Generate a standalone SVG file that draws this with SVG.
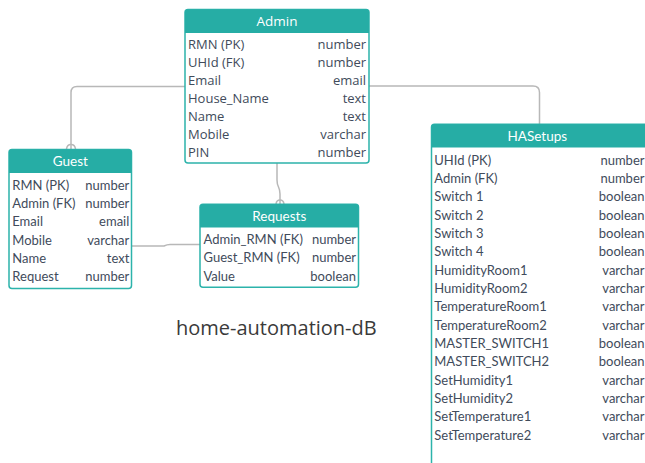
<svg xmlns="http://www.w3.org/2000/svg" width="645" height="463" viewBox="0 0 645 463">
  <defs>
    <style>
      .box { fill: #ffffff; stroke: #2cb3ab; stroke-width: 1.5; }
      .hdr { fill: #26ada5; }
      .ht { fill: #ffffff; font-size: 13.5px; text-anchor: middle; }
      .f { fill: #414b5b; font-size: 13px; }
      .t { fill: #414b5b; font-size: 13px; text-anchor: end; }
      .os { font-family: "Open Sans", "Noto Sans", "Liberation Sans", sans-serif; }
      .lt { font-family: Lato, "Open Sans", "Liberation Sans", sans-serif; }
      .conn { fill: none; stroke: #b8b8b8; stroke-width: 1.5; }
      .title { fill: #3a3a3a; font-size: 20px; font-family: "Open Sans", "Noto Sans", "Liberation Sans", sans-serif; }
    </style>
  </defs>

  <rect width="645" height="463" fill="#ffffff"/>

  <!-- relationship lines -->
  <g id="connectors">
    <path class="conn" d="M185,86.5 H77 Q71,86.5 71,92.5 V149"/>
    <path class="conn" d="M66.5,149 Q67,144.5 71,144.5 Q75,144.5 75.5,149"/>
    <path class="conn" d="M369,86 H533 Q539.5,86 539.5,92.5 V124"/>
    <path class="conn" d="M277,163 V180 Q277,184 278.5,187 Q280,190 280,194 V204"/>
    <path class="conn" d="M276,204 Q276.5,200 280,200 Q283.5,200 284,204"/>
    <path class="conn" d="M132,246 H164 Q167,244.5 170,244.5 H200"/>
  </g>

  <!-- Admin table -->
  <g id="admin" class="os">
    <rect class="box" x="185" y="9.5" width="184" height="153.5" rx="3"/>
    <path class="hdr" d="M185,33 V12.5 Q185,9.5 188,9.5 H366 Q369,9.5 369,12.5 V33 Z"/>
    <text class="ht" x="277" y="26.3">Admin</text>
    <text class="f" x="188" y="49">RMN (PK)</text><text class="t" x="366" y="49">number</text>
    <text class="f" x="188" y="67">UHId (FK)</text><text class="t" x="366" y="67">number</text>
    <text class="f" x="188" y="85">Email</text><text class="t" x="366" y="85">email</text>
    <text class="f" x="188" y="103">House_Name</text><text class="t" x="366" y="103">text</text>
    <text class="f" x="188" y="121">Name</text><text class="t" x="366" y="121">text</text>
    <text class="f" x="188" y="139">Mobile</text><text class="t" x="366" y="139">varchar</text>
    <text class="f" x="188" y="157">PIN</text><text class="t" x="366" y="157">number</text>
  </g>

  <!-- Guest table -->
  <g id="guest" class="lt">
    <rect class="box" x="9" y="149.5" width="122.5" height="139" rx="3"/>
    <path class="hdr" d="M9,173 V152.5 Q9,149.5 12,149.5 H128.5 Q131.5,149.5 131.5,152.5 V173 Z"/>
    <text class="ht" x="70.3" y="166.3">Guest</text>
    <text class="f" x="12.3" y="189.5">RMN (PK)</text><text class="t" x="129.3" y="189.5">number</text>
    <text class="f" x="12.3" y="207.8">Admin (FK)</text><text class="t" x="129.3" y="207.8">number</text>
    <text class="f" x="12.3" y="226.2">Email</text><text class="t" x="129.3" y="226.2">email</text>
    <text class="f" x="12.3" y="244.5">Mobile</text><text class="t" x="129.3" y="244.5">varchar</text>
    <text class="f" x="12.3" y="262.8">Name</text><text class="t" x="129.3" y="262.8">text</text>
    <text class="f" x="12.3" y="281.2">Request</text><text class="t" x="129.3" y="281.2">number</text>
  </g>

  <!-- Requests table -->
  <g id="requests" class="lt">
    <rect class="box" x="200" y="204.3" width="158.5" height="83" rx="3"/>
    <path class="hdr" d="M200,227.5 V207.3 Q200,204.3 203,204.3 H355.5 Q358.5,204.3 358.5,207.3 V227.5 Z"/>
    <text class="ht" x="279.3" y="221.3">Requests</text>
    <text class="f" x="203.5" y="244">Admin_RMN (FK)</text><text class="t" x="356" y="244">number</text>
    <text class="f" x="203.5" y="262.3">Guest_RMN (FK)</text><text class="t" x="356" y="262.3">number</text>
    <text class="f" x="203.5" y="280.7">Value</text><text class="t" x="356" y="280.7">boolean</text>
  </g>

  <!-- HASetups table -->
  <g id="hasetups" class="lt">
    <rect class="box" x="431.5" y="124.3" width="220" height="350" rx="3"/>
    <path class="hdr" d="M431.5,147.5 V127.3 Q431.5,124.3 434.5,124.3 H648.5 Q651.5,124.3 651.5,127.3 V147.5 Z"/>
    <text class="ht" x="537.3" y="141.3">HASetups</text>
    <text class="f" x="434.3" y="164.5">UHId (PK)</text><text class="t" x="644.5" y="164.5">number</text>
    <text class="f" x="434.3" y="182.8">Admin (FK)</text><text class="t" x="644.5" y="182.8">number</text>
    <text class="f" x="434.3" y="201.2">Switch 1</text><text class="t" x="644.5" y="201.2">boolean</text>
    <text class="f" x="434.3" y="219.5">Switch 2</text><text class="t" x="644.5" y="219.5">boolean</text>
    <text class="f" x="434.3" y="237.8">Switch 3</text><text class="t" x="644.5" y="237.8">boolean</text>
    <text class="f" x="434.3" y="256.2">Switch 4</text><text class="t" x="644.5" y="256.2">boolean</text>
    <text class="f" x="434.3" y="274.5">HumidityRoom1</text><text class="t" x="644.5" y="274.5">varchar</text>
    <text class="f" x="434.3" y="292.8">HumidityRoom2</text><text class="t" x="644.5" y="292.8">varchar</text>
    <text class="f" x="434.3" y="311.2">TemperatureRoom1</text><text class="t" x="644.5" y="311.2">varchar</text>
    <text class="f" x="434.3" y="329.5">TemperatureRoom2</text><text class="t" x="644.5" y="329.5">varchar</text>
    <text class="f" x="434.3" y="347.8">MASTER_SWITCH1</text><text class="t" x="644.5" y="347.8">boolean</text>
    <text class="f" x="434.3" y="366.2">MASTER_SWITCH2</text><text class="t" x="644.5" y="366.2">boolean</text>
    <text class="f" x="434.3" y="384.5">SetHumidity1</text><text class="t" x="644.5" y="384.5">varchar</text>
    <text class="f" x="434.3" y="402.8">SetHumidity2</text><text class="t" x="644.5" y="402.8">varchar</text>
    <text class="f" x="434.3" y="421.2">SetTemperature1</text><text class="t" x="644.5" y="421.2">varchar</text>
    <text class="f" x="434.3" y="439.5">SetTemperature2</text><text class="t" x="644.5" y="439.5">varchar</text>
  </g>

  <!-- diagram title -->
  <text class="title" x="176" y="335.3">home-automation-dB</text>
</svg>
